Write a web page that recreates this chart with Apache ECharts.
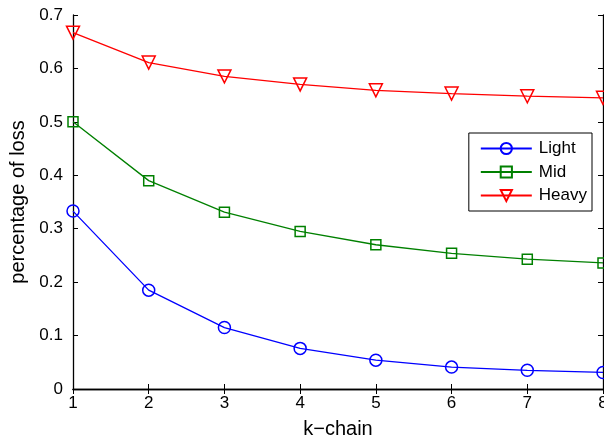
<!DOCTYPE html>
<html><head><meta charset="utf-8">
<script src="https://cdn.jsdelivr.net/npm/echarts@6/dist/echarts.min.js"></script>
<style>html,body{margin:0;padding:0;background:#fff;overflow:hidden}#c{width:604px;height:444px}</style>
</head><body><div id="c"></div>
<script>
const categories = [1, 2, 3, 4, 5, 6, 7, 8];
const light = [0.333, 0.185, 0.115, 0.076, 0.054, 0.041, 0.035, 0.031];
const mid = [0.500, 0.390, 0.331, 0.295, 0.270, 0.254, 0.243, 0.236];
const heavy = [0.667, 0.611, 0.585, 0.570, 0.559, 0.553, 0.548, 0.545];
const yTicks = [0, 0.1, 0.2, 0.3, 0.4, 0.5, 0.6, 0.7];

const font = 'Liberation Sans, Arial, sans-serif';
const chart = echarts.init(document.getElementById('c'), null, {renderer: 'canvas'});
function pairs(v){ return v.map((y,i)=>[categories[i], y]); }
function mk(name, data, color, symbol, size, rot){
  return {
    name, type: 'line', data: pairs(data), symbol, symbolSize: size, symbolRotate: rot || 0,
    showAllSymbol: true, clip: false,
    lineStyle: {color, width: 1.3},
    itemStyle: {color: 'rgba(255,255,255,0)', borderColor: color, borderWidth: 1.5},
    emphasis: {disabled: true}, z: 3
  };
}
const axisLine = {show: true, lineStyle: {color: '#000', width: 1.3}};
const tick = {inside: true, length: 5, lineStyle: {color: '#000', width: 1}};
chart.setOption({
  animation: false,
  backgroundColor: '#fff',
  grid: {left: 73, right: 1, top: 15, bottom: 55, containLabel: false, outerBoundsMode: 'none'},
  legend: {
    right: 12, top: 133, orient: 'vertical',
    backgroundColor: '#fff', borderColor: '#000', borderWidth: 1,
    padding: [7, 5, 7, 11], itemGap: 6.5, itemWidth: 51, itemHeight: 14,
    textStyle: {fontFamily: font, fontSize: 17, color: '#000', padding: [0, 0, 0, 2]},
    data: ['Light', 'Mid', 'Heavy']
  },
  xAxis: [{
    type: 'value', min: 1, max: 8, interval: 1,
    name: 'k\u2212chain', nameLocation: 'middle', nameGap: 30,
    nameTextStyle: {fontFamily: font, fontSize: 20, color: '#000'},
    axisLine, axisTick: tick,
    axisLabel: {fontFamily: font, fontSize: 17, color: '#000', margin: 6},
    splitLine: {show: false}
  }, {
    type: 'value', min: 1, max: 8, interval: 1, position: 'top',
    axisLine, axisTick: tick,
    axisLabel: {show: false}, splitLine: {show: false}
  }],
  yAxis: [{
    type: 'value', min: 0, max: 0.7, interval: 0.1,
    name: 'percentage of loss', nameLocation: 'middle', nameGap: 44,
    nameTextStyle: {fontFamily: font, fontSize: 20, color: '#000'},
    axisLine, axisTick: tick,
    axisLabel: {fontFamily: font, fontSize: 17, color: '#000', margin: 10,
      formatter: v => { const t = yTicks.find(x => Math.abs(x - v) < 1e-9); return t === undefined ? '' : String(+t.toFixed(1)); }},
    splitLine: {show: false}
  }, {
    type: 'value', min: 0, max: 0.7, interval: 0.1, position: 'right',
    axisLine, axisTick: tick,
    axisLabel: {show: false}, splitLine: {show: false}
  }],
  series: [
    mk('Light', light, '#0000ff', 'circle', 12),
    mk('Mid', mid, '#008000', 'rect', 10),
    mk('Heavy', heavy, '#ff0000', 'triangle', 13, 180)
  ]
});
</script></body></html>
